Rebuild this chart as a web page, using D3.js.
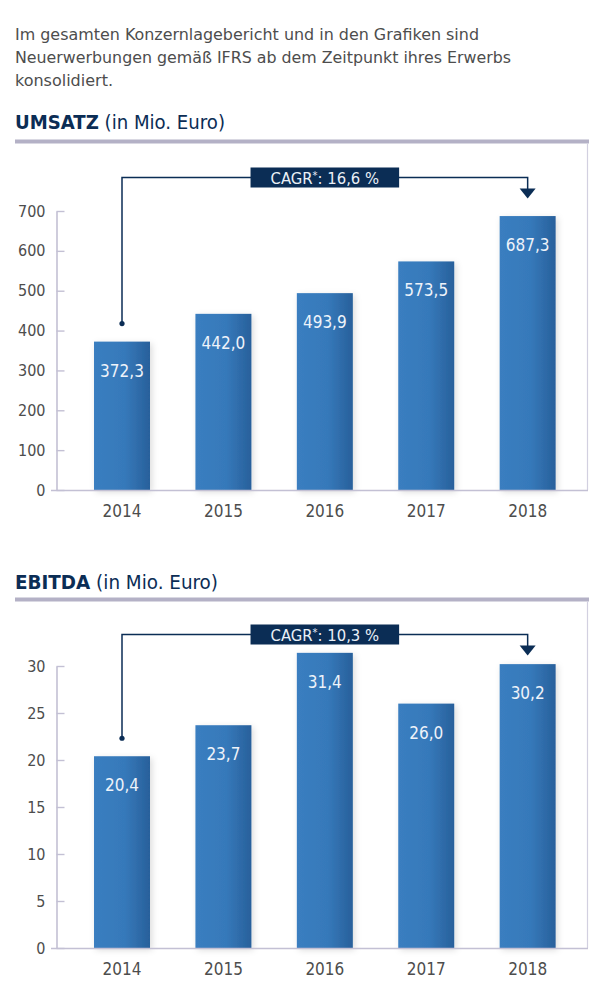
<!DOCTYPE html>
<html>
<head>
<meta charset="utf-8">
<script src="https://cdn.jsdelivr.net/npm/d3@7"></script>
<style>
  html, body { margin: 0; padding: 0; background: #fff; }
  svg { display: block; }
  text { font-family: "DejaVu Sans Condensed", "DejaVu Sans", sans-serif; font-stretch: condensed; }
</style>
</head>
<body>
<svg id="chart" width="589" height="1000"></svg>
<script>
// ---- data ----
const introLines = [
  "Im gesamten Konzernlagebericht und in den Grafiken sind",
  "Neuerwerbungen gemäß IFRS ab dem Zeitpunkt ihres Erwerbs",
  "konsolidiert."
];
const years = ["2014", "2015", "2016", "2017", "2018"];
const umsatzValues = [372.3, 442.0, 493.9, 573.5, 687.3];
const umsatzTicks = [0, 100, 200, 300, 400, 500, 600, 700];
const ebitdaValues = [20.4, 23.7, 31.4, 26.0, 30.2];
const ebitdaTicks = [0, 5, 10, 15, 20, 25, 30];
const chartTitles = ["UMSATZ", "EBITDA"];
const chartUnits = [" (in Mio. Euro)", " (in Mio. Euro)"];
const cagrValues = ["16,6", "10,3"];

const svg = d3.select("#chart");
const navy = "#0b2d55";
const axisColor = "#c3c0d4";
const textGray = "#4d4d4d";

const locale = d3.formatLocale({decimal: ",", thousands: ".", grouping: [3], currency: ["", "€"]});
const fmt = locale.format(".1f");

// defs: gradient + shadow
const defs = svg.append("defs");
const grad = defs.append("linearGradient").attr("id", "barGrad")
  .attr("x1", "0%").attr("x2", "100%").attr("y1", "0%").attr("y2", "0%");
grad.append("stop").attr("offset", "0%").attr("stop-color", "#3a7ec0");
grad.append("stop").attr("offset", "55%").attr("stop-color", "#3679ba");
grad.append("stop").attr("offset", "100%").attr("stop-color", "#28609b");
const filt = defs.append("filter").attr("id", "shadow")
  .attr("x", "-30%").attr("y", "-10%").attr("width", "160%").attr("height", "130%");
filt.append("feDropShadow").attr("dx", 2).attr("dy", 2).attr("stdDeviation", 3)
  .attr("flood-color", "#000").attr("flood-opacity", 0.14);

// intro text
const introWidths = [464, 496, 98];
svg.append("g").selectAll("text").data(introLines).join("text")
  .attr("x", 15).attr("y", (d, i) => 40 + i * 23)
  .attr("font-size", 16.5).attr("fill", textGray)
  .attr("textLength", (d, i) => introWidths[i]).attr("lengthAdjust", "spacingAndGlyphs")
  .text(d => d);

function drawChart(cfg) {
  const g = svg.append("g");
  // title
  const t = g.append("text").attr("x", 15).attr("y", cfg.titleY)
    .attr("font-size", 19.5).attr("fill", navy)
    .attr("textLength", cfg.titleW).attr("lengthAdjust", "spacingAndGlyphs");
  t.append("tspan").attr("font-weight", "bold").text(cfg.title);
  t.append("tspan").text(cfg.unit);
  // rule
  g.append("rect").attr("x", 15).attr("y", cfg.ruleY).attr("width", 574).attr("height", 4)
    .attr("fill", "#b4b1c6");

  const x = d3.scaleBand().domain(years).range([56, 587])
    .paddingInner(0.448).paddingOuter(0.342).align(0.548);
  const y = d3.scaleLinear().domain([0, d3.max(cfg.ticks)]).range([cfg.y0, cfg.yTop]);

  // right border
  g.append("line").attr("x1", 587.5).attr("x2", 587.5)
    .attr("y1", cfg.ruleY + 4).attr("y2", y(0))
    .attr("stroke", "#d2d0e0").attr("stroke-width", 1.2);

  // bars
  g.append("g").selectAll("rect").data(cfg.values).join("rect")
    .attr("x", (d, i) => x(years[i]))
    .attr("y", d => y(d))
    .attr("width", x.bandwidth())
    .attr("height", d => y(0) - y(d))
    .attr("fill", "url(#barGrad)")
    .attr("filter", "url(#shadow)");

  // value labels
  g.append("g").selectAll("text").data(cfg.values).join("text")
    .attr("x", (d, i) => x(years[i]) + x.bandwidth() / 2)
    .attr("y", d => y(d) + 35)
    .attr("text-anchor", "middle").attr("font-size", 17).attr("fill", "#eef3fa")
    .text(d => fmt(d));

  // y axis
  const ya = g.append("g").attr("transform", "translate(56.5,0)")
    .call(d3.axisLeft(y).tickValues(cfg.ticks).tickSizeInner(-8).tickSizeOuter(0).tickPadding(11));
  ya.select(".domain").attr("stroke", axisColor).attr("stroke-width", 1.6);
  ya.selectAll(".tick line").attr("stroke", axisColor).attr("stroke-width", 1.4);
  ya.selectAll(".tick text").attr("font-size", 16).attr("fill", textGray)
    .attr("font-family", "DejaVu Sans Condensed, DejaVu Sans, sans-serif");

  // x axis baseline
  g.append("line").attr("x1", 51).attr("x2", 588)
    .attr("y1", y(0) + 0.5).attr("y2", y(0) + 0.5)
    .attr("stroke", axisColor).attr("stroke-width", 1.6);
  const xa = g.append("g").attr("transform", `translate(0,${y(0)})`)
    .call(d3.axisBottom(x).tickSize(0).tickPadding(15));
  xa.select(".domain").remove();
  xa.selectAll(".tick text").attr("font-size", 17).attr("fill", textGray)
    .attr("font-family", "DejaVu Sans Condensed, DejaVu Sans, sans-serif");

  // CAGR bracket
  const xs = x(years[0]) + x.bandwidth() / 2;
  const xe = x(years[years.length - 1]) + x.bandwidth() / 2;
  const ly = cfg.bracketY;
  const dotY = y(cfg.values[0]) - 18;
  g.append("path")
    .attr("d", `M${xs},${dotY}V${ly}H${xe}V${ly + 12}`)
    .attr("fill", "none").attr("stroke", navy).attr("stroke-width", 1.5);
  g.append("circle").attr("cx", xs).attr("cy", dotY).attr("r", 2.6).attr("fill", navy);
  g.append("path")
    .attr("d", `M${xe - 8},${ly + 11}H${xe + 8}L${xe},${ly + 21}Z`)
    .attr("fill", navy);

  const cx = x(years[2]) + x.bandwidth() / 2;
  const boxG = g.append("g");
  const rect = boxG.append("rect").attr("fill", navy);
  const lbl = boxG.append("text").attr("x", cx).attr("y", ly + 6)
    .attr("text-anchor", "middle").attr("font-size", 16.5).attr("fill", "#eaf0f7");
  lbl.append("tspan").text("CAGR");
  lbl.append("tspan").attr("dy", -5).attr("font-size", 11).text("*");
  lbl.append("tspan").attr("dy", 5).text(": " + cfg.cagr + " %");
  const w = lbl.node().getComputedTextLength() + 40;
  rect.attr("x", cx - w / 2).attr("y", ly - 10).attr("width", w).attr("height", 20);
}

drawChart({
  title: chartTitles[0], unit: chartUnits[0], titleY: 129, ruleY: 139.5, titleW: 210,
  values: umsatzValues, ticks: umsatzTicks, y0: 490, yTop: 211,
  bracketY: 177.5, cagr: cagrValues[0]
});
drawChart({
  title: chartTitles[1], unit: chartUnits[1], titleY: 589, ruleY: 597.5, titleW: 203,
  values: ebitdaValues, ticks: ebitdaTicks, y0: 948, yTop: 666,
  bracketY: 634.5, cagr: cagrValues[1]
});
</script>
</body>
</html>
